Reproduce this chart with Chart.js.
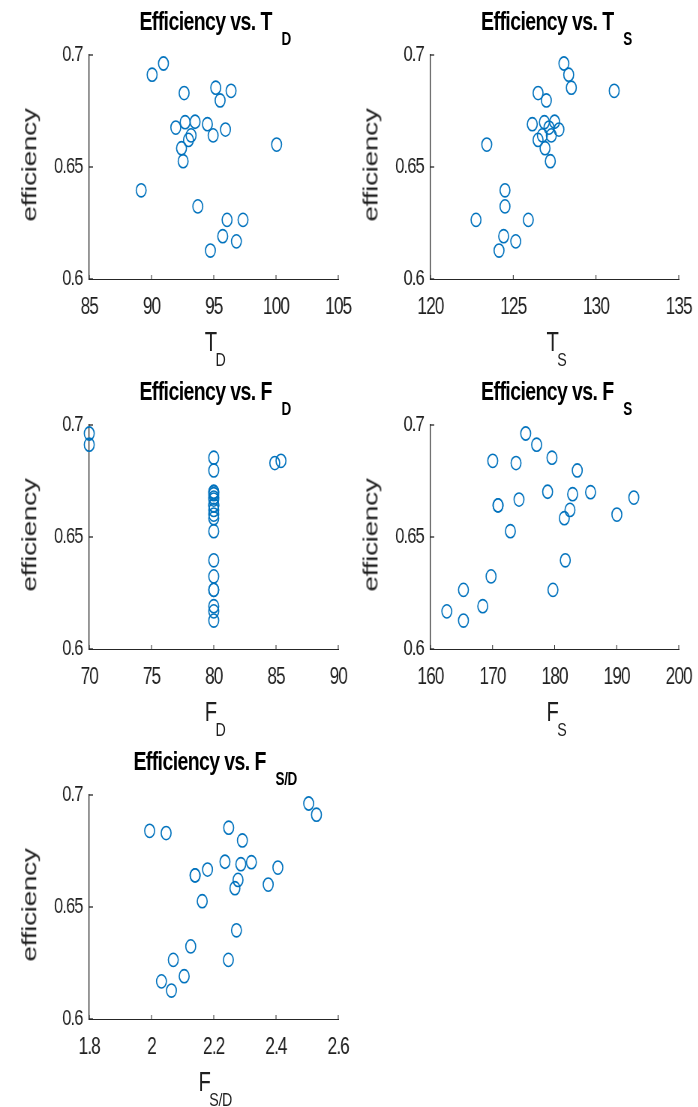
<!DOCTYPE html>
<html>
<head>
<meta charset="utf-8">
<script src="https://cdn.jsdelivr.net/npm/chart.js@4.4.1/dist/chart.umd.min.js"></script>
<style>
html, body { margin: 0; padding: 0; background: #fff; }
body { width: 698px; height: 1107px; overflow: hidden; position: relative; }
#fig { position: absolute; left: 0; top: 0; width: 931px; height: 1107px;
       transform: scaleX(0.75); transform-origin: 0 0;
       font-family: "Liberation Sans", Arial, sans-serif; color: #1f1f1f; }
#fig canvas { position: absolute; }
.ttl { position: absolute; font-weight: bold; font-size: 26px; line-height: 26px; white-space: nowrap;
       color: #000; letter-spacing: -0.8px; transform: translateX(-50%); }
.ttl sub { font-size: 18px; letter-spacing: -0.5px; vertical-align: baseline; position: relative; top: 15px; margin-left: 13px; }
.xl { position: absolute; font-size: 27px; line-height: 27px; white-space: nowrap; transform: translateX(-50%); }
.xl sub { font-size: 19px; vertical-align: baseline; position: relative; top: 15px; margin-left: -2px; letter-spacing: -0.5px; }
.yl { position: absolute; font-size: 28px; line-height: 28px; white-space: nowrap; letter-spacing: -0.3px;
      transform: translate(-50%, -50%) rotate(-90deg); }
</style>
</head>
<body>
<div id="fig"></div>
<script>
// efficiency shared by all five subplots
const efficiency = [0.6962, 0.6912, 0.6854, 0.6840, 0.6830, 0.6797, 0.6702, 0.6700, 0.6691, 0.6676,
                    0.6667, 0.6641, 0.6641, 0.6621, 0.6600, 0.6584, 0.6526, 0.6396, 0.6324, 0.6264,
                    0.6264, 0.6191, 0.6168, 0.6127];
const tD = [90.96, 90.05, 95.16, 96.39, 92.62, 95.51, 93.50, 92.70, 94.49, 91.95,
            95.94, 94.95, 93.18, 92.97, 100.05, 92.41, 92.54, 89.17, 93.72, 96.07,
            97.35, 95.72, 96.82, 94.73];
const tS = [128.06, 128.35, 128.51, 131.10, 126.50, 127.00, 127.50, 126.88, 126.15, 127.16,
            127.76, 126.76, 127.30, 126.50, 123.40, 126.92, 127.24, 124.50, 124.50, 122.75,
            125.91, 124.42, 125.15, 124.14];
const fD = [70, 70, 80, 85.4, 84.9, 80, 80, 80, 80, 80,
            80, 80, 80, 80, 80, 80, 80, 80, 80, 80,
            80, 80, 80, 80];
const fS = [175.34, 177.10, 179.57, 170.03, 173.78, 183.65, 178.87, 185.79, 182.90, 192.76,
            174.26, 170.88, 170.88, 182.47, 190.03, 181.56, 172.87, 181.72, 169.76, 165.31,
            179.73, 168.42, 162.63, 165.31];
const fSD = [2.505, 2.530, 2.248, 1.994, 2.047, 2.292, 2.236, 2.321, 2.287, 2.406,
             2.180, 2.140, 2.140, 2.278, 2.375, 2.268, 2.163, 2.273, 2.126, 2.070,
             2.247, 2.105, 2.032, 2.064];

const effTicks = [0.6, 0.65, 0.7];
const tDTicks = [85, 90, 95, 100, 105];
const tSTicks = [120, 125, 130, 135];
const fDTicks = [70, 75, 80, 85, 90];
const fSTicks = [160, 170, 180, 190, 200];
const fSDTicks = [1.8, 2, 2.2, 2.4, 2.6];

const SX = 0.75;   // horizontal squeeze of the figure
const FONT = '"Liberation Sans", Arial, sans-serif';
const AXIS = '#262626';
const TEXT = '#1f1f1f';

const panels = [
  { name: 'T', sub: 'D', x: tD, ticks: tDTicks, left: 89, right: 338.3, top: 55, bottom: 279 },
  { name: 'T', sub: 'S', x: tS, ticks: tSTicks, left: 430.7, right: 679.3, top: 55, bottom: 279 },
  { name: 'F', sub: 'D', x: fD, ticks: fDTicks, left: 89, right: 338.3, top: 425, bottom: 649 },
  { name: 'F', sub: 'S', x: fS, ticks: fSTicks, left: 430.7, right: 679.3, top: 425, bottom: 649 },
  { name: 'F', sub: 'S/D', x: fSD, ticks: fSDTicks, left: 89, right: 338.3, top: 795, bottom: 1019 },
];

const inwardTicks = {
  id: 'inwardTicks',
  beforeDraw(chart) { chart.ctx.letterSpacing = '-1.2px'; },
  afterDraw(chart) {
    const { ctx, chartArea: a, scales: { x, y } } = chart;
    ctx.save();
    ctx.strokeStyle = AXIS;
    ctx.lineWidth = 1;
    x.ticks.forEach(t => {
      const px = x.getPixelForValue(t.value);
      ctx.beginPath(); ctx.moveTo(px, a.bottom); ctx.lineTo(px, a.bottom - 4); ctx.stroke();
    });
    ctx.lineWidth = 1.3;
    y.ticks.forEach(t => {
      const py = y.getPixelForValue(t.value);
      ctx.beginPath(); ctx.moveTo(a.left, py); ctx.lineTo(a.left + 5, py); ctx.stroke();
    });
    ctx.restore();
  }
};

const fig = document.getElementById('fig');

function addDiv(cls, html, left, top) {
  const d = document.createElement('div');
  d.className = cls;
  d.innerHTML = html;
  d.style.left = left + 'px';
  d.style.top = top + 'px';
  fig.appendChild(d);
}

panels.forEach(p => {
  const L = p.left / SX, R = p.right / SX, W = R - L, H = p.bottom - p.top;
  const axisW = 70, axisH = 50, padTop = 12, padRight = 30;

  const canvas = document.createElement('canvas');
  canvas.width = Math.round(axisW + W + padRight);
  canvas.height = padTop + H + axisH;
  canvas.style.left = (L - axisW) + 'px';
  canvas.style.top = (p.top - padTop) + 'px';
  fig.appendChild(canvas);

  new Chart(canvas.getContext('2d'), {
    type: 'scatter',
    data: {
      datasets: [{
        data: p.x.map((v, i) => ({ x: v, y: efficiency[i] })),
        pointStyle: 'circle',
        pointRadius: 6.6,
        pointHoverRadius: 6.6,
        borderColor: '#0072BD',
        backgroundColor: 'rgba(0,0,0,0)',
        pointBorderWidth: 1.6,
        clip: false,
      }],
    },
    options: {
      responsive: false,
      animation: false,
      devicePixelRatio: 1,
      events: [],
      layout: { padding: { top: padTop, right: padRight, left: 0, bottom: 0 } },
      plugins: { legend: { display: false }, tooltip: { enabled: false } },
      scales: {
        x: {
          type: 'linear', position: 'bottom',
          min: p.ticks[0], max: p.ticks[p.ticks.length - 1],
          afterBuildTicks: s => { s.ticks = p.ticks.map(v => ({ value: v })); },
          afterFit: s => { s.height = axisH; s.paddingLeft = 0; s.paddingRight = 0; },
          grid: { display: false, drawTicks: false },
          border: { display: true, color: AXIS, width: 1 },
          ticks: { color: TEXT, font: { family: FONT, size: 23 }, padding: 15,
                   maxRotation: 0, autoSkip: false, callback: v => String(v) },
        },
        y: {
          type: 'linear', position: 'left',
          min: effTicks[0], max: effTicks[effTicks.length - 1],
          afterBuildTicks: s => { s.ticks = effTicks.map(v => ({ value: v })); },
          afterFit: s => { s.width = axisW; s.paddingTop = 0; s.paddingBottom = 0; },
          grid: { display: false, drawTicks: false },
          border: { display: true, color: AXIS, width: 1.3 },
          ticks: { color: TEXT, font: { family: FONT, size: 22 }, padding: 9,
                   autoSkip: false, callback: v => String(v) },
        },
      },
    },
    plugins: [inwardTicks],
  });

  const cx = (L + R) / 2;
  addDiv('ttl', 'Efficiency vs. ' + p.name + '<sub>' + p.sub + '</sub>', cx + 2, p.top - 47);
  addDiv('xl', p.name + '<sub>' + p.sub + '</sub>', cx + 2, p.bottom + 50);
  addDiv('yl', 'efficiency', (p.left - 60) / SX, (p.top + p.bottom) / 2 - 2);
});
</script>
</body>
</html>
